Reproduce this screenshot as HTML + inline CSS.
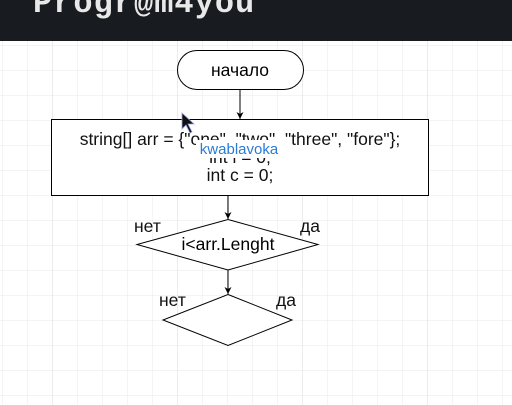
<!DOCTYPE html>
<html><head><meta charset="utf-8"><style>
html,body{margin:0;padding:0;width:512px;height:405px;overflow:hidden;background:#fff;}
</style></head><body>
<svg width="512" height="405" xmlns="http://www.w3.org/2000/svg" style="display:block">
<defs>
<pattern id="g" x="2" y="20" width="25" height="25" patternUnits="userSpaceOnUse">
<path d="M0 0V25M0 0H25" stroke="#e9e9e9" stroke-width="1" fill="none"/>
</pattern>
<pattern id="G" x="52" y="20" width="125" height="125" patternUnits="userSpaceOnUse">
<path d="M0 0V125" stroke="#dedede" stroke-width="1.2" fill="none"/>
</pattern>
<marker id="a" markerWidth="8" markerHeight="8" refX="7" refY="4" orient="auto" markerUnits="userSpaceOnUse">
<path d="M0 0.5L7 4L0 7.5L2 4Z" fill="#000"/>
</marker>
</defs>
<rect x="0" y="40" width="512" height="365" fill="url(#g)"/>
<rect x="0" y="40" width="512" height="365" fill="url(#G)"/>
<rect x="0" y="0" width="512" height="41" fill="#181c20"/>
<text x="33" y="12" font-family="Liberation Mono, monospace" font-size="32" font-weight="bold" fill="#e8e8e8" letter-spacing="1">Progr@m4you</text>
<rect x="177.5" y="50.5" width="126" height="39" rx="19.5" fill="#fff" stroke="#000"/>
<text x="240" y="76" text-anchor="middle" font-family="Liberation Sans, sans-serif" font-size="17.5">начало</text>
<line x1="240" y1="89" x2="240" y2="119" stroke="#000" marker-end="url(#a)"/>
<rect x="51.5" y="119.5" width="377" height="76" fill="#fff" stroke="#000"/>
<g font-family="Liberation Sans, sans-serif" font-size="17.5" text-anchor="middle" fill="#111">
<text x="240" y="145">string[] arr = {"one", "two", "three", "fore"};</text>
<text x="240" y="163">int i = 0;</text>
<text x="240" y="181">int c = 0;</text>
</g>
<rect x="196" y="140" width="86" height="18" fill="#fff"/>
<text x="239" y="154" text-anchor="middle" font-family="Liberation Sans, sans-serif" font-size="15" fill="#2a7bd4">kwablavoka</text>
<path d="M182 113L182 129L186 125L190 133L192 132L188 124L194 124Z" fill="#111" stroke="#9aa0d8" stroke-width="0.8"/>
<line x1="228" y1="195" x2="228" y2="219" stroke="#000" marker-end="url(#a)"/>
<polygon points="228,219.5 318,244.5 228,270 137,244.5" fill="#fff" stroke="#000"/>
<text x="228" y="250" text-anchor="middle" font-family="Liberation Sans, sans-serif" font-size="17.5">i&lt;arr.Lenght</text>
<line x1="228" y1="270" x2="228" y2="294" stroke="#000" marker-end="url(#a)"/>
<polygon points="228,294.5 292,320 228,345.5 163,320" fill="#fff" stroke="#000"/>
<g font-family="Liberation Sans, sans-serif" font-size="17.5" fill="#111">
<text x="134" y="232">нет</text>
<text x="300" y="232">да</text>
<text x="159" y="306">нет</text>
<text x="276" y="306">да</text>
</g>
</svg>
</body></html>
